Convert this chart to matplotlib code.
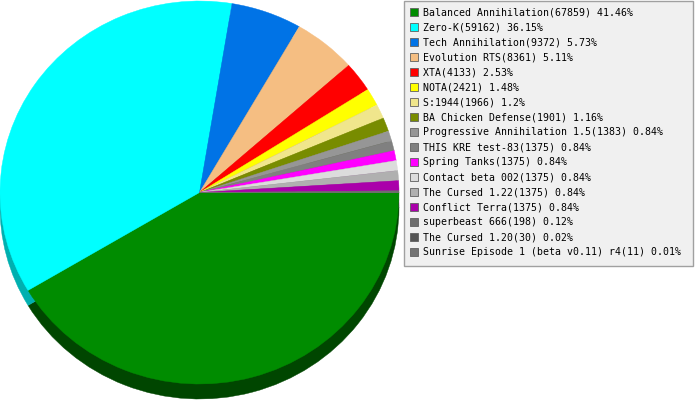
import matplotlib
matplotlib.use("Agg")
import matplotlib.pyplot as plt
from matplotlib.patches import Rectangle
import matplotlib.colors as mcolors

names = ["Balanced Annihilation", "Zero-K", "Tech Annihilation", "Evolution RTS",
         "XTA", "NOTA", "S:1944", "BA Chicken Defense", "Progressive Annihilation 1.5",
         "THIS KRE test-83", "Spring Tanks", "Contact beta 002", "The Cursed 1.22",
         "Conflict Terra", "superbeast 666", "The Cursed 1.20",
         "Sunrise Episode 1 (beta v0.11) r4"]
counts = [67859, 59162, 9372, 8361, 4133, 2421, 1966, 1901, 1383, 1375, 1375,
          1375, 1375, 1375, 198, 30, 11]
percents = ["41.46", "36.15", "5.73", "5.11", "2.53", "1.48", "1.2", "1.16", "0.84",
            "0.84", "0.84", "0.84", "0.84", "0.84", "0.12", "0.02", "0.01"]
colors = ["#008c00", "#00ffff", "#0073e6", "#f5be82", "#ff0000", "#ffff00",
          "#f0e68c", "#788c00", "#969696", "#808080", "#ff00ff", "#dcdcdc",
          "#b0b0b0", "#aa00aa", "#6e6e6e", "#555555", "#737373"]

W, H = 695, 400
fig = plt.figure(figsize=(W / 100, H / 100), dpi=100)
fig.patch.set_facecolor("white")

# pie axes in pixel box
px0, px1 = 0, 399
py0, py1 = 1, 384  # top, bottom of top face
ax = fig.add_axes([px0 / W, 1 - py1 / H, (px1 - px0) / W, (py1 - py0) / H])
depth_px = 15
dy = 2.0 * depth_px / (py1 - py0)

def darker(c, f=0.5):
    r, g, b = mcolors.to_rgb(c)
    return (r * f, g * f, b * f)

shadow_cols = [darker(c) for c in colors]
shadow_cols[1] = (0, 0.69, 0.69)
wedges_s, _ = ax.pie(counts, colors=shadow_cols, startangle=0, counterclock=False,
                     center=(0, -dy), radius=1)
wedges_t, _ = ax.pie(counts, colors=colors, startangle=0, counterclock=False,
                     center=(0, 0), radius=1)
for w in list(wedges_s) + list(wedges_t):
    w.set_edgecolor(w.get_facecolor())
    w.set_linewidth(0.3)
    w.set_clip_on(False)
ax.set_aspect("auto")
ax.set_xlim(-1, 1)
ax.set_ylim(-1, 1)
ax.axis("off")

# overlay axes in pixel coordinates for legend
lax = fig.add_axes([0, 0, 1, 1])
lax.set_xlim(0, W)
lax.set_ylim(H, 0)
lax.axis("off")
lax.add_patch(Rectangle((404, 1), 289, 265, facecolor="#f0f0f0",
                        edgecolor="#a0a0a0", linewidth=1))
for i, (n, c, p, col) in enumerate(zip(names, counts, percents, colors)):
    yc = 12.3 + 15 * i
    lax.add_patch(Rectangle((410, yc - 4), 8, 8, facecolor=col,
                            edgecolor="#606060", linewidth=0.6))
    lax.text(423, yc, f"{n}({c}) {p}%", fontsize=7.1, family="DejaVu Sans Mono",
             va="center", ha="left", color="black")

fig.savefig("out.png", dpi=100)
